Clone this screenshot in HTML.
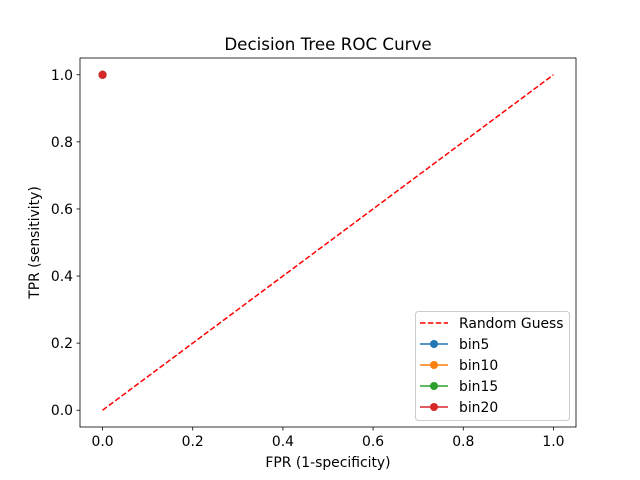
<!DOCTYPE html>
<html><head><meta charset="utf-8"><style>
body{margin:0;background:#fff}
svg{display:block;font-family:"DejaVu Sans","Liberation Sans",sans-serif}
</style></head><body>
<svg id="c" width="640" height="480"></svg>
<script>
const xTicks=[0,0.2,0.4,0.6,0.8,1.0];
const yTicks=[0,0.2,0.4,0.6,0.8,1.0];
const tickLabels=["0.0","0.2","0.4","0.6","0.8","1.0"];
const randomX=[0,1];
const randomY=[0,1];
const seriesNames=["bin5","bin10","bin15","bin20"];
const seriesColors=["#1f77b4","#ff7f0e","#2ca02c","#d62728"];
const seriesFPR=[[0,0],[0,0],[0,0],[0,0]];
const seriesTPR=[[1,1],[1,1],[1,1],[1,1]];
const L=80,R=576,T=58,B=427;
const sx=v=>L+(v+0.05)/1.1*(R-L);
const sy=v=>B-(v+0.05)/1.1*(B-T);
const svg=document.getElementById('c');const NS='http://www.w3.org/2000/svg';
function mk(tag,a,txt){const e=document.createElementNS(NS,tag);for(const k in a)e.setAttribute(k,a[k]);if(txt!=null)e.textContent=txt;svg.appendChild(e);return e;}
let e;
e=mk('text',{x:328,y:50,'text-anchor':'middle','font-size':'16.7'},'Decision Tree ROC Curve');


xTicks.forEach((v,i)=>{
 e=mk('line',{x1:sx(v),x2:sx(v),y1:B,y2:B+3.5,stroke:'#000','stroke-width':0.8});
 
 
 e=mk('text',{x:sx(v),y:B+19,'text-anchor':'middle','font-size':'13.9'},tickLabels[i]);
 
 
});
yTicks.forEach((v,i)=>{
 e=mk('line',{x1:L-3.5,x2:L,y1:sy(v),y2:sy(v),stroke:'#000','stroke-width':0.8});
 
 
 e=mk('text',{x:L-7,y:sy(v)+5,'text-anchor':'end','font-size':'13.9'},tickLabels[i]);
 
 
});
e=mk('text',{x:328,y:467,'text-anchor':'middle','font-size':'13.9'},'FPR (1-specificity)');


e=mk('text',{x:39,y:242.5,'text-anchor':'middle','font-size':'13.9',transform:'rotate(-90 39 242.5)'},'TPR (sensitivity)');


e=mk('polyline',{points:randomX.map((x,i)=>sx(x)+','+sy(randomY[i])).join(' '),fill:'none',stroke:'red','stroke-width':1.5,'stroke-dasharray':'5.5,2.4'});


seriesNames.forEach((n,s)=>{
 e=mk('polyline',{points:seriesFPR[s].map((x,i)=>sx(x)+','+sy(seriesTPR[s][i])).join(' '),fill:'none',stroke:seriesColors[s],'stroke-width':1.5});
 
 
 seriesFPR[s].forEach((x,i)=>{
  e=mk('circle',{cx:sx(x),cy:sy(seriesTPR[s][i]),r:4,fill:seriesColors[s]});
  
  
 });
});
e=mk('rect',{x:L,y:T,width:R-L,height:B-T,fill:'none',stroke:'#000','stroke-width':0.8});


e=mk('rect',{x:415.5,y:311.5,width:154,height:109,rx:3,fill:'#fff','fill-opacity':0.8,stroke:'#ccc','stroke-width':1});


e=mk('line',{x1:420,x2:448,y1:323,y2:323,stroke:'red','stroke-width':1.5,'stroke-dasharray':'5.5,2.4'});


e=mk('text',{x:459,y:328,'font-size':'13.9'},'Random Guess');


seriesNames.forEach((n,s)=>{
 const y=344+s*21;
 e=mk('line',{x1:420,x2:448,y1:y,y2:y,stroke:seriesColors[s],'stroke-width':1.5});
 
 
 e=mk('circle',{cx:434,cy:y,r:4,fill:seriesColors[s]});
 
 
 e=mk('text',{x:459,y:y+5,'font-size':'13.9'},n);
 
 
});
</script>
</body></html>
